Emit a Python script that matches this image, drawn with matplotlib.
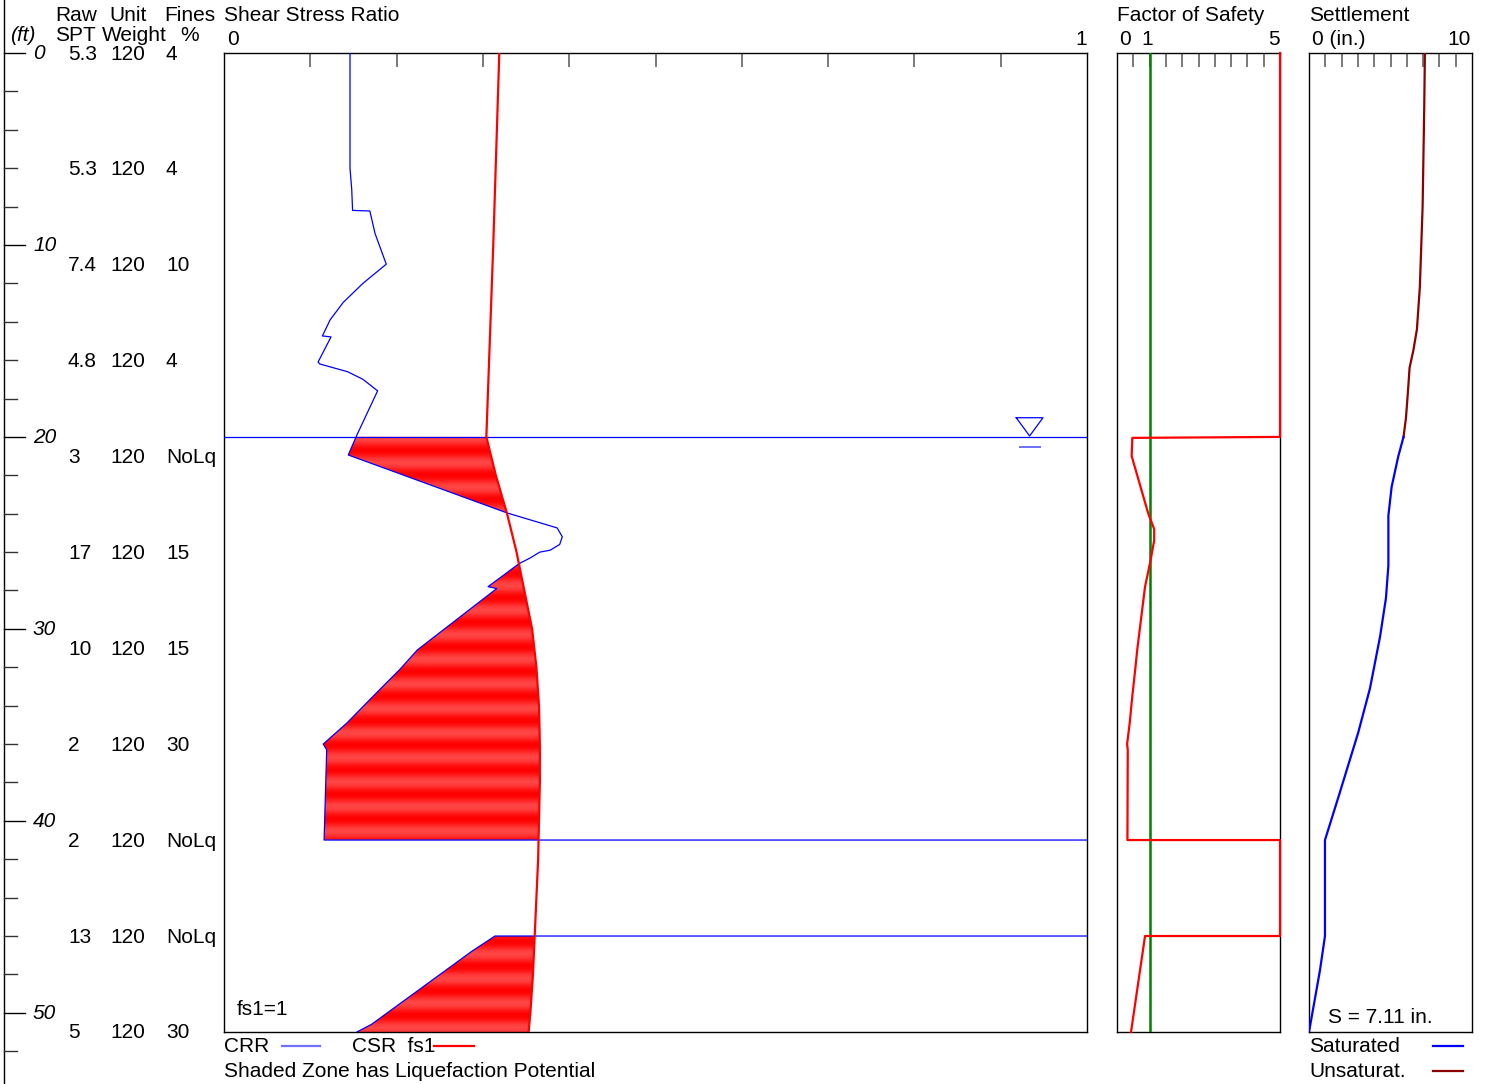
import numpy as np
import matplotlib
matplotlib.use("Agg")
import matplotlib.pyplot as plt
from matplotlib.path import Path
from matplotlib.lines import Line2D

plt.rcParams['font.family'] = ['Liberation Sans', 'DejaVu Sans']

# ---------------- data ----------------
row_depth = [0, 6, 11, 16, 21, 26, 31, 36, 41, 46, 51]
raw_spt = ["5.3", "5.3", "7.4", "4.8", "3", "17", "10", "2", "2", "13", "5"]
unit_weight = ["120"] * 11
fines = ["4", "4", "10", "4", "NoLq", "15", "15", "30", "NoLq", "NoLq", "30"]

crr_depth = [0, 4.5, 6.0, 7.1, 8.2, 8.23, 9.4, 11.0, 12.0, 13.0, 13.9, 14.74, 14.79,
             16.1, 16.2, 16.6, 17.0, 17.6, 19.9, 20.94, 23.96, 24.74, 25.2, 25.6,
             25.9, 26.0, 26.3, 26.6, 27.8, 27.9, 31.1, 32.1, 33.5, 34.9, 36.0, 36.3,
             41.0, 41.0, 46.0, 46.0, 46.8, 50.6, 51.0]
crr_value = [0.146, 0.146, 0.146, 0.148, 0.149, 0.169, 0.175, 0.188, 0.161, 0.138,
             0.123, 0.114, 0.124, 0.109, 0.111, 0.143, 0.161, 0.178, 0.154, 0.144,
             0.328, 0.386, 0.392, 0.389, 0.378, 0.366, 0.355, 0.342, 0.306, 0.316,
             0.224, 0.204, 0.173, 0.1425, 0.115, 0.119, 0.116, 2.0, 2.0, 0.314,
             0.287, 0.171, 0.154]

csr_depth = [0, 10, 20, 22, 24, 26, 28, 30, 32, 34, 36, 38, 40, 42, 44, 46, 48, 50, 51]
csr_value = [0.319, 0.312, 0.304, 0.315, 0.328, 0.339, 0.348, 0.357, 0.362, 0.365,
             0.366, 0.366, 0.365, 0.364, 0.362, 0.360, 0.358, 0.355, 0.353]

fs_depth = [0, 20.0, 20.05, 21.0, 24.0, 24.8, 25.4, 26.6, 27.8, 31.1, 32.1, 33.5,
            34.9, 36.0, 36.3, 41.0, 41.0, 46.0, 46.0, 51.0]
fs_value = [5, 5, 0.47, 0.45, 0.96, 1.14, 1.14, 1.01, 0.86, 0.62, 0.56, 0.47,
            0.39, 0.31, 0.33, 0.32, 5, 5, 0.86, 0.43]

unsat_depth = [0, 2.8, 8.0, 12.2, 14.4, 15.5, 16.4, 17.4, 19.0, 20.0]
unsat_value = [7.11, 7.07, 6.97, 6.80, 6.62, 6.40, 6.17, 6.09, 5.95, 5.80]
sat_depth = [20.0, 21.0, 22.6, 24.1, 26.7, 28.4, 30.4, 33.1, 35.4, 38.5, 41.0, 46.0, 47.8, 51.0]
sat_value = [5.80, 5.48, 5.07, 4.87, 4.87, 4.72, 4.36, 3.74, 3.02, 1.90, 0.98, 0.98, 0.67, 0.0]

water_table = 20.0
total_settlement = "S = 7.11 in."

# ---------------- layout ----------------
W, H = 1488, 1084
fig = plt.figure(figsize=(W / 100, H / 100), dpi=100)
DMAX = 51.0
FS = 15


def px_axes(x0, y0, x1, y1):
    return fig.add_axes([x0 / W, 1 - y1 / H, (x1 - x0) / W, (y1 - y0) / H])


def ftext(x, y, s, ha='left', va='baseline', **kw):
    fig.text(x / W, 1 - y / H, s, ha=ha, va=va, fontsize=kw.pop('fontsize', FS), **kw)


def fline(x0, x1, y0, y1, **kw):
    fig.add_artist(Line2D([x0 / W, x1 / W], [1 - y0 / H, 1 - y1 / H], **kw))


def dy(d):
    return 53 + d * (1032 - 53) / DMAX


def style_axes(ax, xmax, ticks):
    ax.set_xlim(0, xmax)
    ax.set_ylim(DMAX, 0)
    ax.set_yticks([])
    ax.set_xticks(ticks)
    ax.tick_params(axis='x', direction='in', top=True, bottom=False,
                   labeltop=False, labelbottom=False, length=10, width=1.1, color='#555555')
    for sp in ax.spines.values():
        sp.set_color('black')
        sp.set_linewidth(1.0)


# ---------------- main: shear stress ratio ----------------
ax = px_axes(224, 53, 1087, 1032)

grid = np.linspace(0, DMAX, 5101)
crr_i = np.interp(grid, crr_depth, crr_value)
csr_i = np.interp(grid, csr_depth, csr_value)
mask = (grid >= water_table) & (crr_i < csr_i)
coll = ax.fill_betweenx(grid, crr_i, csr_i, where=mask, interpolate=True,
                        facecolor='none', edgecolor='none')
clip = Path.make_compound_path(*coll.get_paths())

yy = np.linspace(0, DMAX, 3000)
period, phase = 1.28, 30.94
t = 0.5 + 0.5 * np.cos(2 * np.pi * (yy - phase) / period)
red = np.array([1.0, 0.0, 0.0])
light = np.array([1.0, 0.27, 0.27])
cols = red[None, :] * t[:, None] + light[None, :] * (1 - t[:, None])
img = np.repeat(cols[:, None, :], 2, axis=1)
im = ax.imshow(img, extent=[0, 1, DMAX, 0], aspect='auto', origin='upper',
               interpolation='bilinear', zorder=2)
im.set_clip_path(clip, transform=ax.transData)

ax.plot(crr_value, crr_depth, color='#0000ff', lw=0.9, zorder=3)
ax.plot(csr_value, csr_depth, color='#ff0000', lw=1.6, zorder=4)
ax.axhline(water_table, color='#0000ff', lw=0.9, zorder=3)

# water table symbol
ax.plot([0.918, 0.949, 0.9335, 0.918], [19.0, 19.0, 19.95, 19.0], color='#0000ff', lw=0.9, zorder=3)
ax.plot([0.922, 0.945], [20.5, 20.5], color='#6f6fff', lw=1.4, zorder=3)

style_axes(ax, 1, np.arange(1, 10) / 10)
ax.text(0.015, 50.1, "fs1=1", fontsize=FS, transform=ax.transData, va='baseline')

# ---------------- factor of safety ----------------
ax2 = px_axes(1117, 53, 1280, 1032)
style_axes(ax2, 5, np.arange(0.5, 5, 0.5))
ax2.axvline(1, color='#008000', lw=1.8, zorder=3)
ax2.plot(fs_value, fs_depth, color='#ff0000', lw=1.6, zorder=4, clip_on=False)

# ---------------- settlement ----------------
ax3 = px_axes(1309, 53, 1472, 1032)
style_axes(ax3, 10, np.arange(1, 10))
ax3.plot(unsat_value, unsat_depth, color='#8b0000', lw=1.6, zorder=3)
ax3.plot(sat_value, sat_depth, color='#0000ff', lw=1.6, zorder=3)
ftext(1328, 1023, total_settlement)

# ---------------- depth axis ----------------
fline(3.5, 3.5, 0, H, color='black', lw=1.0)
for d in range(0, 54, 2):
    y = dy(d)
    if d % 10 == 0:
        fline(3.5, 25, y, y, color='black', lw=1.0)
        ftext(33, y + 6, str(d), style='italic')
    else:
        fline(3.5, 17, y, y, color='#333333', lw=1.0)

# ---------------- column headers ----------------
ftext(55, 21, "Raw")
ftext(109, 21, "Unit")
ftext(164, 21, "Fines")
ftext(224, 21, "Shear Stress Ratio")
ftext(10, 41, "(ft)", style='italic')
ftext(55, 41, "SPT")
ftext(102, 41, "Weight")
ftext(180, 41, "%")
ftext(233, 45, "0", ha='center')
ftext(1081, 45, "1", ha='center')
ftext(1117, 21, "Factor of Safety")
ftext(1125, 45, "0", ha='center')
ftext(1147, 45, "1", ha='center')
ftext(1274, 45, "5", ha='center')
ftext(1309, 21, "Settlement")
ftext(1312, 45, "0 (in.)")
ftext(1459, 45, "10", ha='center')

for d, a, b, c in zip(row_depth, raw_spt, unit_weight, fines):
    yb = dy(d) + 6.5
    ftext(68, yb, a)
    ftext(110, yb, b)
    ftext(166, yb, c)

# ---------------- legends ----------------
ftext(224, 1052, "CRR")
fline(282, 320, 1046, 1046, color='#7070ff', lw=1.6)
ftext(352, 1052, "CSR  fs1")
fline(434, 474, 1046, 1046, color='#ff0000', lw=1.6)
ftext(224, 1077, "Shaded Zone has Liquefaction Potential")
ftext(1309, 1052, "Saturated")
fline(1433, 1463, 1046, 1046, color='#0000ff', lw=1.6)
ftext(1309, 1077, "Unsaturat.")
fline(1433, 1463, 1071, 1071, color='#8b0000', lw=1.6)

fig.savefig("out.png", dpi=100)
